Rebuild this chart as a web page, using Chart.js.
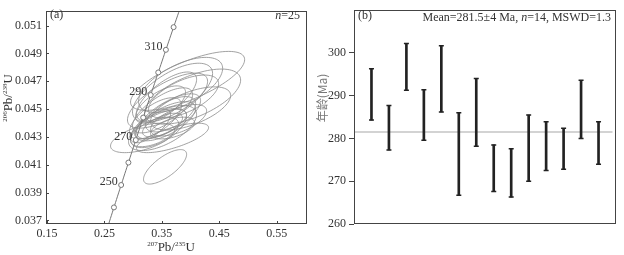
<!DOCTYPE html>
<html>
<head>
<meta charset="utf-8">
<script src="https://cdn.jsdelivr.net/npm/chart.js@4.4.0/dist/chart.umd.min.js"></script>
<style>
  body { margin: 0; background: #fff; }
  #wrap { position: relative; width: 624px; height: 255px; }
  canvas { position: absolute; top: 0; }
  #chartA { left: 0; }
  #chartB { left: 312px; }
</style>
</head>
<body>
<div id="wrap">
  <canvas id="chartA" width="312" height="255"></canvas>
  <canvas id="chartB" width="312" height="255"></canvas>
</div>
<script>
// (a) concordia curve, points every 10 Ma
const concAges = [220, 230, 240, 250, 260, 270, 280, 290, 300, 310, 320, 330];
const concR235 = [0.241931, 0.254222, 0.266635, 0.279173, 0.291832, 0.304618, 0.317531, 0.330569, 0.343740, 0.357036, 0.370467, 0.384032];
const concR238 = [0.034716, 0.036323, 0.037932, 0.039543, 0.041157, 0.042773, 0.044392, 0.046013, 0.047637, 0.049263, 0.050892, 0.052524];
const concLabelAges = [250, 270, 290, 310];

// (a) error ellipses: centre, half extents, correlation
const ellX   = [0.3948, 0.4035, 0.3826, 0.3686, 0.3599, 0.4000, 0.3686, 0.3556, 0.3164, 0.3512, 0.3477, 0.3564, 0.3443, 0.3617, 0.3373, 0.3652, 0.3512, 0.3390, 0.3791, 0.3512, 0.3303, 0.3878, 0.3477, 0.3686, 0.3582];
const ellY   = [0.04703, 0.04590, 0.04674, 0.04618, 0.04561, 0.04505, 0.04293, 0.04085, 0.04293, 0.04385, 0.04392, 0.04413, 0.04364, 0.04448, 0.04336, 0.04463, 0.04491, 0.04434, 0.04420, 0.04364, 0.04378, 0.04590, 0.04533, 0.04364, 0.04590];
const ellSX  = [0.0993, 0.0836, 0.0732, 0.0697, 0.0697, 0.0697, 0.0627, 0.0375, 0.0557, 0.0348, 0.0453, 0.0523, 0.0488, 0.0557, 0.0418, 0.0436, 0.0523, 0.0453, 0.0488, 0.0592, 0.0348, 0.0610, 0.0436, 0.0383, 0.0523];
const ellSY  = [0.00212, 0.00198, 0.00198, 0.00212, 0.00198, 0.00155, 0.00106, 0.00124, 0.00106, 0.00085, 0.00106, 0.00141, 0.00141, 0.00162, 0.00106, 0.00127, 0.00162, 0.00148, 0.00113, 0.00162, 0.00120, 0.00155, 0.00134, 0.00078, 0.00177];
const ellRho = [0.72, 0.6, 0.6, 0.65, 0.7, 0.6, 0.7, 0.72, 0.55, 0.6, 0.65, 0.65, 0.6, 0.7, 0.55, 0.6, 0.7, 0.65, 0.6, 0.6, 0.7, 0.6, 0.65, 0.5, 0.7];

const xTicksA = [0.15, 0.25, 0.35, 0.45, 0.55];
const yTicksA = [0.037, 0.039, 0.041, 0.043, 0.045, 0.047, 0.049, 0.051];

// (b) ages with error bars
const ageLow  = [284.3, 277.3, 291.3, 279.6, 286.2, 266.7, 278.2, 267.6, 266.3, 270.0, 272.5, 272.8, 280.0, 274.0];
const ageHigh = [296.3, 287.7, 302.2, 291.4, 301.7, 286.0, 294.0, 278.5, 277.6, 285.5, 283.9, 282.4, 293.6, 283.9];
const meanAge = 281.5;
const ageTicks = [260, 270, 280, 290, 300];

const SERIF = '"Liberation Serif", "Times New Roman", serif';
Chart.defaults.font.family = SERIF;
Chart.defaults.font.size = 12;
Chart.defaults.color = '#333';

const frame = {
  id: 'frame',
  afterDraw(chart) {
    const { ctx, chartArea: a } = chart;
    ctx.save();
    ctx.strokeStyle = '#444';
    ctx.lineWidth = 1;
    ctx.strokeRect(Math.round(a.left) + 0.5, Math.round(a.top) + 0.5,
      Math.round(a.right - a.left) - 1, Math.round(a.bottom - a.top) - 1);
    ctx.restore();
  }
};

// rich text with superscripts, optionally rotated
function drawRich(ctx, parts, cx, cy, rotate) {
  ctx.save();
  ctx.translate(cx, cy);
  if (rotate) ctx.rotate(-Math.PI / 2);
  let total = 0;
  parts.forEach(p => { ctx.font = p.font; p.w = ctx.measureText(p.t).width; total += p.w; });
  let xx = -total / 2;
  ctx.textBaseline = 'alphabetic';
  ctx.textAlign = 'left';
  parts.forEach(p => {
    ctx.font = p.font;
    ctx.fillStyle = p.color || '#333';
    ctx.fillText(p.t, xx, p.dy);
    xx += p.w;
  });
  ctx.restore();
}

function iso(sup, el, sup2, el2) {
  const big = '13px ' + SERIF, small = '7px ' + SERIF;
  return [
    { t: sup, font: small, dy: -1 },
    { t: el, font: big, dy: 4 },
    { t: sup2, font: small, dy: -1 },
    { t: el2, font: big, dy: 4 }
  ];
}

const ellipsePlugin = {
  id: 'ellipses',
  beforeDatasetsDraw(chart) {
    const { ctx, chartArea: a, scales: { x, y } } = chart;
    ctx.save();
    ctx.beginPath();
    ctx.rect(a.left, a.top, a.right - a.left, a.bottom - a.top);
    ctx.clip();
    ctx.strokeStyle = '#8a8a8a';
    ctx.lineWidth = 0.8;
    for (let i = 0; i < ellX.length; i++) {
      const r = ellRho[i], q = Math.sqrt(1 - r * r);
      ctx.beginPath();
      for (let k = 0; k <= 90; k++) {
        const t = k / 90 * 2 * Math.PI;
        const px = x.getPixelForValue(ellX[i] + ellSX[i] * Math.cos(t));
        const py = y.getPixelForValue(ellY[i] + ellSY[i] * (r * Math.cos(t) + q * Math.sin(t)));
        if (k) ctx.lineTo(px, py); else ctx.moveTo(px, py);
      }
      ctx.stroke();
    }
    ctx.restore();
  }
};

const decorA = {
  id: 'decorA',
  afterDraw(chart) {
    const { ctx, chartArea: a, scales: { x, y } } = chart;
    ctx.save();
    // inward ticks
    ctx.strokeStyle = '#444';
    ctx.lineWidth = 1;
    ctx.beginPath();
    xTicksA.forEach(v => {
      const px = Math.round(x.getPixelForValue(v)) + 0.5;
      ctx.moveTo(px, a.bottom); ctx.lineTo(px, a.bottom - 3);
    });
    yTicksA.forEach(v => {
      const py = Math.round(y.getPixelForValue(v)) + 0.5;
      ctx.moveTo(a.left, py); ctx.lineTo(a.left + 3, py);
    });
    ctx.stroke();
    // age labels on concordia
    ctx.fillStyle = '#333';
    ctx.font = '12px ' + SERIF;
    ctx.textAlign = 'right';
    ctx.textBaseline = 'middle';
    concLabelAges.forEach(age => {
      const i = concAges.indexOf(age);
      const px = x.getPixelForValue(concR235[i]);
      const py = y.getPixelForValue(concR238[i]);
      ctx.fillText(String(age), px - 3.5, py - 3);
    });
    // corner labels
    ctx.textAlign = 'left';
    ctx.fillText('(a)', 50, 15);
    ctx.textAlign = 'right';
    ctx.fillText('=25', 300, 16);
    const w = ctx.measureText('=25').width;
    ctx.font = 'italic 12px ' + SERIF;
    ctx.fillText('n', 300 - w, 16);
    ctx.restore();
    // axis titles
    drawRich(ctx, iso('207', 'Pb/', '235', 'U'), 171, 247, false);
    drawRich(ctx, iso('206', 'Pb/', '238', 'U'), 8, 98, true);
  }
};

new Chart(document.getElementById('chartA'), {
  type: 'scatter',
  data: {
    datasets: [{
      type: 'line',
      data: concR235.map((v, i) => ({ x: v, y: concR238[i] })),
      borderColor: '#777',
      borderWidth: 1,
      pointRadius: 2.5,
      pointBackgroundColor: '#fff',
      pointBorderColor: '#777',
      pointBorderWidth: 1,
      tension: 0.2
    }]
  },
  options: {
    responsive: false,
    animation: false,
    layout: { padding: { top: 7, right: 5 } },
    plugins: { legend: { display: false }, tooltip: { enabled: false } },
    scales: {
      x: {
        type: 'linear', min: 0.1484, max: 0.6026,
        afterBuildTicks: s => { s.ticks = xTicksA.map(v => ({ value: v })); },
        afterFit: s => { s.height = 31; },
        grid: { display: false, drawTicks: false },
        border: { display: false },
        ticks: { padding: 3, maxRotation: 0, autoSkip: false, callback: v => v.toFixed(2) }
      },
      y: {
        type: 'linear', min: 0.03674, max: 0.05204,
        afterBuildTicks: s => { s.ticks = yTicksA.map(v => ({ value: v })); },
        afterFit: s => { s.width = 46; },
        grid: { display: false, drawTicks: false },
        border: { display: false },
        ticks: { padding: 4, autoSkip: false, callback: v => v.toFixed(3) }
      }
    }
  },
  plugins: [ellipsePlugin, frame, decorA]
});

const decorB = {
  id: 'decorB',
  afterDatasetsDraw(chart) {
    const { ctx, scales: { x, y } } = chart;
    ctx.save();
    ctx.strokeStyle = '#222';
    ctx.lineWidth = 1.5;
    ctx.beginPath();
    ageLow.forEach((lo, i) => {
      const px = x.getPixelForValue(i + 1);
      [lo, ageHigh[i]].forEach(v => {
        const py = y.getPixelForValue(v);
        ctx.moveTo(px - 2.5, py); ctx.lineTo(px + 2.5, py);
      });
    });
    ctx.stroke();
    ctx.restore();
  },
  afterDraw(chart) {
    const { ctx } = chart;
    ctx.save();
    ctx.fillStyle = '#333';
    ctx.font = '12px ' + SERIF;
    ctx.textBaseline = 'middle';
    ctx.textAlign = 'left';
    ctx.fillText('(b)', 46, 16);
    ctx.textAlign = 'right';
    const tail = '=14, MSWD=1.3';
    ctx.fillText(tail, 299, 18);
    let right = 299 - ctx.measureText(tail).width;
    ctx.font = 'italic 12px ' + SERIF;
    ctx.fillText('n', right, 18);
    right -= ctx.measureText('n').width;
    ctx.font = '12px ' + SERIF;
    ctx.fillText('Mean=281.5±4 Ma, ', right, 18);
    ctx.restore();
    drawRich(ctx, [{ t: '年龄(Ma)', font: '12px "Noto Sans CJK SC", ' + SERIF, dy: 4, color: '#777' }], 11, 98, true);
  }
};

new Chart(document.getElementById('chartB'), {
  type: 'bar',
  data: {
    datasets: [{
      type: 'bar',
      data: ageLow.map((lo, i) => ({ x: i + 1, y: [lo, ageHigh[i]] })),
      backgroundColor: '#222',
      borderWidth: 0,
      barThickness: 2
    }, {
      type: 'line',
      data: [{ x: 0, y: meanAge }, { x: 14.8, y: meanAge }],
      borderColor: '#c4c4c4',
      borderWidth: 1.5,
      pointRadius: 0
    }]
  },
  options: {
    responsive: false,
    animation: false,
    layout: { padding: { top: 7, right: 8 } },
    plugins: { legend: { display: false }, tooltip: { enabled: false } },
    scales: {
      x: {
        type: 'linear', min: 0, max: 15, offset: false,
        afterFit: s => { s.height = 31; },
        ticks: { display: false },
        grid: { display: false, drawTicks: false },
        border: { display: false }
      },
      y: {
        type: 'linear', min: 260, max: 310,
        afterBuildTicks: s => { s.ticks = ageTicks.map(v => ({ value: v })); },
        afterFit: s => { s.width = 42; },
        grid: { drawOnChartArea: false, drawTicks: true, tickLength: 5, color: '#444' },
        border: { display: false },
        ticks: { padding: 3, autoSkip: false }
      }
    }
  },
  plugins: [frame, decorB]
});
</script>
</body>
</html>
